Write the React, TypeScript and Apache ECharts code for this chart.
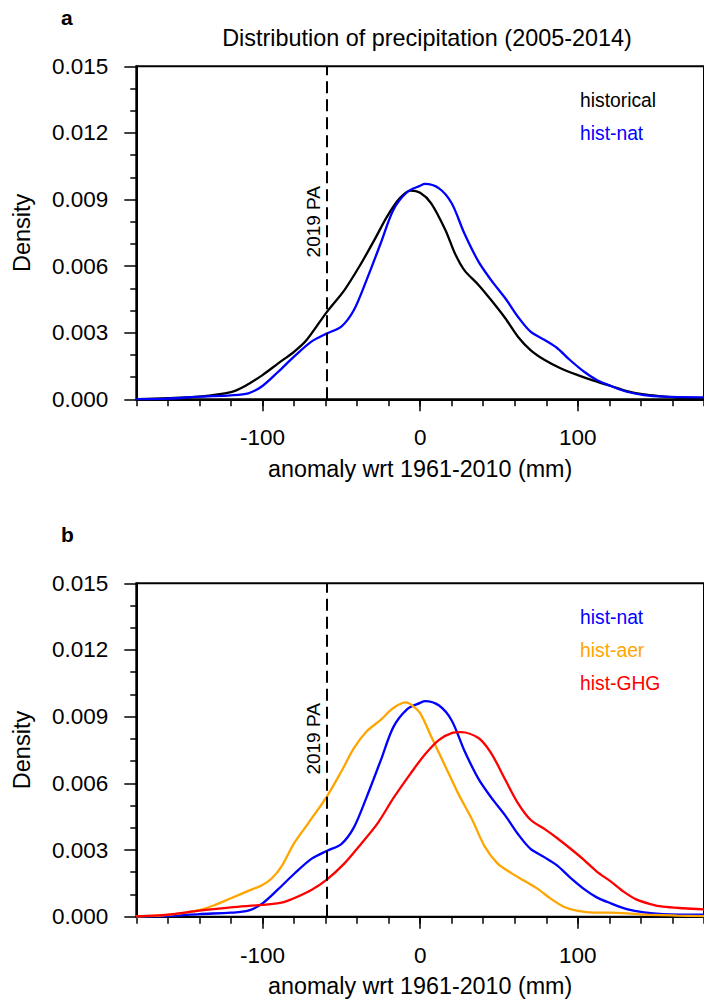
import React, { useEffect, useRef } from "react";
import * as echarts from "echarts";

// ---- data (density values in units of 1e-3) ----
const histX = [-180, -160, -140, -120, -111, -100, -90, -80, -72, -59, -48, -38, -29, -21, -13, -6, 0, 7, 16, 22, 28, 37, 45, 54, 62, 70, 79, 89, 100, 110, 121, 131, 142, 152, 163, 180];
const histY = [0.01, 0.05, 0.12, 0.32, 0.6, 1.09, 1.62, 2.14, 2.67, 3.95, 4.92, 6.05, 7.18, 8.23, 9.05, 9.4, 9.3, 8.83, 7.63, 6.58, 5.82, 5.15, 4.47, 3.65, 2.82, 2.22, 1.77, 1.4, 1.09, 0.84, 0.6, 0.37, 0.22, 0.14, 0.07, 0.04];

const natX = [-180, -160, -140, -120, -109, -100, -90, -80, -69, -59, -50, -42, -34, -25, -17, -8, 0, 3, 12, 20, 28, 37, 45, 54, 62, 70, 79, 87, 95, 104, 112, 121, 131, 142, 154, 180];
const natY = [0.01, 0.03, 0.12, 0.18, 0.27, 0.6, 1.24, 1.92, 2.6, 2.97, 3.27, 4.02, 5.37, 7.03, 8.53, 9.35, 9.62, 9.7, 9.5, 8.83, 7.48, 6.2, 5.37, 4.55, 3.72, 3.05, 2.67, 2.3, 1.77, 1.24, 0.87, 0.6, 0.34, 0.19, 0.12, 0.09];

const aerX = [-180, -160, -140, -130, -120, -109, -100, -94, -88, -80, -71, -59, -50, -42, -34, -25, -17, -9, -5, 0, 7, 16, 24, 33, 41, 49, 58, 66, 75, 83, 91, 100, 110, 121, 131, 142, 163, 180];
const aerY = [0.01, 0.08, 0.3, 0.53, 0.83, 1.16, 1.43, 1.73, 2.25, 3.3, 4.2, 5.43, 6.53, 7.58, 8.33, 8.86, 9.39, 9.64, 9.5, 9.16, 8.11, 6.76, 5.56, 4.36, 3.15, 2.4, 1.95, 1.62, 1.23, 0.8, 0.45, 0.26, 0.18, 0.18, 0.15, 0.09, 0.05, 0.03];

const ghgX = [-180, -160, -140, -120, -100, -88, -80, -69, -59, -48, -38, -27, -17, -6, 3, 12, 20, 26, 37, 45, 54, 62, 70, 79, 87, 95, 104, 112, 121, 129, 137, 146, 154, 167, 180];
const ghgY = [0.01, 0.09, 0.27, 0.42, 0.53, 0.63, 0.83, 1.2, 1.68, 2.4, 3.23, 4.2, 5.33, 6.45, 7.3, 7.96, 8.26, 8.3, 8.04, 7.36, 6.16, 5.11, 4.36, 3.94, 3.53, 3.08, 2.55, 2.03, 1.58, 1.13, 0.78, 0.57, 0.45, 0.38, 0.33];

const UNIT = 0.001;
const xMajorTicks = [-100, 0, 100];
const xRange = [-180, 180];
const yRange = [0, 0.015];
const yInterval = 0.003;
const paValue = -59;
const paLabelY = 0.008;
const paLabel = "2019 PA";
const titleText = "Distribution of precipitation (2005-2014)";
const panelLetters = ["a", "b"];
const xName = "anomaly wrt 1961-2010 (mm)";
const yName = "Density";

const panelSeries = [
  [
    { name: "historical", color: "#000000", xs: histX, ys: histY },
    { name: "hist-nat", color: "#0000ff", xs: natX, ys: natY },
  ],
  [
    { name: "hist-nat", color: "#0000ff", xs: natX, ys: natY },
    { name: "hist-aer", color: "#ffa500", xs: aerX, ys: aerY },
    { name: "hist-GHG", color: "#ff0000", xs: ghgX, ys: ghgY },
  ],
];

const FONT = "'Liberation Sans', Arial, Helvetica, sans-serif";
const grids = [
  { left: 136.3, top: 66.3, width: 572, height: 333 },
  { left: 136.3, top: 583.3, width: 572, height: 333.4 },
];

export default function App() {
  const ref = useRef<HTMLDivElement>(null);
  useEffect(() => {
    if (!ref.current) return;
    const chart = echarts.init(ref.current, null, { renderer: "svg" });
    const tickStyle = { color: "#000", width: 1.5 };
    const xAxes: any[] = [];
    const yAxes: any[] = [];
    const series: any[] = [];
    grids.forEach((g, gi) => {
      xAxes.push({
        gridIndex: gi,
        type: "value",
        min: xRange[0],
        max: xRange[1],
        interval: 20,
        position: "bottom",
        axisLine: { show: true, onZero: false, lineStyle: { color: "#000", width: 2 } },
        axisTick: { show: true, length: 7, lineStyle: tickStyle },
        axisLabel: {
          show: true,
          customValues: xMajorTicks,
          formatter: (v: number) => String(v),
          fontSize: 22.5,
          color: "#000",
          fontFamily: FONT,
          margin: 27,
        },
        splitLine: { show: false },
        name: xName,
        nameLocation: "middle",
        nameGap: 58,
        nameTextStyle: { fontSize: 23.3, color: "#000", fontFamily: FONT },
      });
      xAxes.push({
        gridIndex: gi,
        type: "value",
        min: xRange[0],
        max: xRange[1],
        position: "bottom",
        axisLine: { show: false, onZero: false },
        axisTick: { show: true, length: 12, customValues: xMajorTicks, lineStyle: tickStyle },
        axisLabel: { show: false },
        splitLine: { show: false },
      });
      yAxes.push({
        gridIndex: gi,
        type: "value",
        min: yRange[0],
        max: yRange[1],
        interval: yInterval,
        axisLine: { show: true, onZero: false, lineStyle: { color: "#000", width: 2 } },
        axisTick: { show: true, length: 12, lineStyle: tickStyle },
        minorTick: { show: true, splitNumber: 3, length: 6, lineStyle: tickStyle },
        axisLabel: {
          formatter: (v: number) => v.toFixed(3),
          fontSize: 22.5,
          color: "#000",
          fontFamily: FONT,
          margin: 28,
        },
        splitLine: { show: false },
        minorSplitLine: { show: false },
        name: yName,
        nameLocation: "middle",
        nameGap: 102,
        nameRotate: 90,
        nameTextStyle: { fontSize: 23.5, color: "#000", fontFamily: FONT },
      });
      panelSeries[gi].forEach((s, si) => {
        series.push({
          type: "line",
          name: s.name,
          xAxisIndex: gi * 2,
          yAxisIndex: gi,
          data: s.xs.map((x, i) => [x, s.ys[i] * UNIT]),
          smooth: 0.3,
          showSymbol: false,
          lineStyle: { color: s.color, width: 2.3 },
          itemStyle: { color: s.color },
          z: 3,
          markLine:
            si === 0
              ? {
                  silent: true,
                  symbol: "none",
                  label: { show: false },
                  lineStyle: { type: [12, 6], color: "#000", width: 2 },
                  data: [{ xAxis: paValue }],
                }
              : undefined,
        });
      });
    });

    chart.setOption({
      animation: false,
      backgroundColor: "#ffffff",
      textStyle: { fontFamily: FONT },
      grid: grids.map((g) => ({ ...g, show: true, borderColor: "#000", borderWidth: 2, backgroundColor: "transparent" })),
      title: [
        {
          text: titleText,
          left: 422,
          top: 21,
          textAlign: "center",
          textStyle: { fontSize: 23.4, fontWeight: "normal", color: "#000", fontFamily: FONT },
        },
        {
          text: panelLetters[0],
          left: 56,
          top: 2,
          textStyle: { fontSize: 21, fontWeight: "bold", color: "#000", fontFamily: FONT },
        },
        {
          text: panelLetters[1],
          left: 56,
          top: 519,
          textStyle: { fontSize: 21, fontWeight: "bold", color: "#000", fontFamily: FONT },
        },
      ],
      xAxis: xAxes,
      yAxis: yAxes,
      series,
    });

    const graphics: any[] = [];
    grids.forEach((g, gi) => {
      const p = chart.convertToPixel({ xAxisIndex: gi * 2, yAxisIndex: gi }, [paValue, paLabelY]) as number[];
      graphics.push({
        type: "text",
        x: p[0] - 14,
        y: p[1],
        rotation: Math.PI / 2,
        style: {
          text: paLabel,
          fill: "#000",
          font: `19px ${FONT}`,
          align: "center",
          verticalAlign: "middle",
        },
        z: 10,
      });
      panelSeries[gi].forEach((s, si) => {
        graphics.push({
          type: "text",
          x: 580,
          y: g.top + 34 + si * 33,
          style: {
            text: s.name,
            fill: s.color,
            font: `19.3px ${FONT}`,
            align: "left",
            verticalAlign: "middle",
          },
          z: 10,
        });
      });
    });
    chart.setOption({ graphic: graphics });

    return () => chart.dispose();
  }, []);
  return <div ref={ref} style={{ position: "absolute", left: 0, top: 0, width: 704, height: 1004 }} />;
}
